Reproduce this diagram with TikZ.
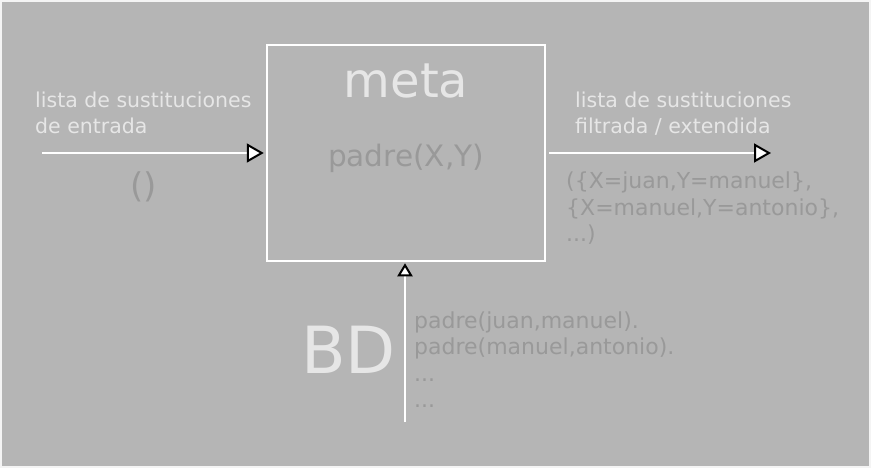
\documentclass[tikz,border=0pt]{standalone}
\usepackage{fontspec}
\setmainfont{DejaVu Sans}
\usetikzlibrary{arrows.meta}
\definecolor{fondo}{HTML}{B5B5B5}
\definecolor{claro}{HTML}{E6E6E6}
\definecolor{oscuro}{HTML}{999999}
\begin{document}
\begin{tikzpicture}[x=1pt, y=-1pt]
\tikzset{caja/.style={draw=white, line width=2.5pt, minimum width=278pt, minimum height=216pt, inner sep=0pt},
  texto/.style={inner sep=0pt, align=left},
  fleche/.style={draw=white, line width=2.2pt, -{Triangle[length=17pt, width=19pt, color=black, fill=white, line width=2pt]}},
  petite/.style={draw=white, line width=2pt, -{Triangle[length=13pt, width=15pt, color=black, fill=white, line width=2pt]}}}
\useasboundingbox (0,0) rectangle (871,468);
\fill[white!85!fondo] (0,0) rectangle (871,468);
\fill[fondo] (2,2) rectangle (869,466);
\node[caja] (meta) at (406,153) {};
% textos (base = ultima linea)
\node[texto, anchor=base, text=claro, font=\fontsize{48}{58}\selectfont] (titulo) at (406,98) {meta};
\node[texto, anchor=base, text=oscuro, font=\fontsize{29.5}{36}\selectfont] (consulta) at (406,167) {padre(X,Y)};
\node[texto, anchor=base west, text=claro, font=\fontsize{20.5}{26}\selectfont] (etiqentrada) at (35,134) {lista de sustituciones\\de entrada};
\node[texto, anchor=base west, text=claro, font=\fontsize{20.5}{26}\selectfont] (etiqsalida) at (575,134) {lista de sustituciones\\filtrada / extendida};
\node[texto, anchor=base, text=oscuro, font=\fontsize{34}{40}\selectfont] (vacia) at (144,198) {()};
\node[texto, anchor=base west, text=oscuro, font=\fontsize{22}{27}\selectfont] (resultado) at (566,242) {(\{X=juan,Y=manuel\},\\\{X=manuel,Y=antonio\},\\...)};
\node[texto, anchor=base west, text=oscuro, font=\fontsize{22}{26.5}\selectfont] (hechos) at (414,407.5) {padre(juan,manuel).\\padre(manuel,antonio).\\...\\...};
\node[texto, anchor=base west, text=claro, font=\fontsize{65}{78}\selectfont] (bd) at (301,373) {BD};
\coordinate (entrada) at (42,153);
\coordinate (salida) at (771,153);
\coordinate (base) at (405,422);
\draw[fleche, shorten >=2pt] (entrada) -- (meta.west);
\draw[fleche] (meta.east) ++(3,0) -- (salida);
\draw[petite, shorten >=1pt] (base) -- (base |- meta.south);
\end{tikzpicture}
\end{document}
